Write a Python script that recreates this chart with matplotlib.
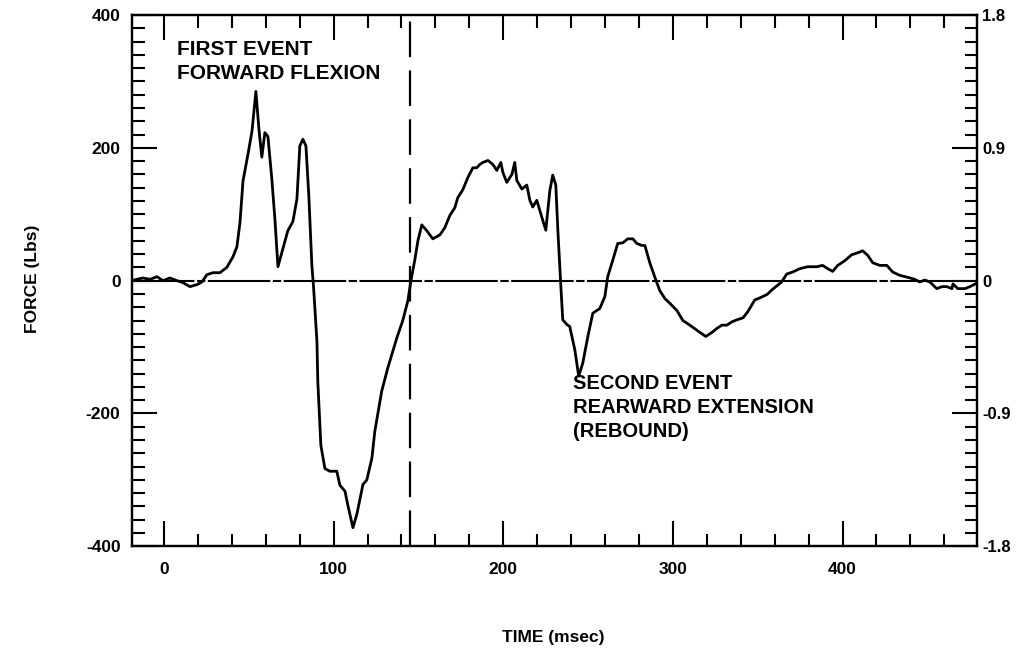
import numpy as np
import matplotlib
matplotlib.use("Agg")
import matplotlib.pyplot as plt
from matplotlib.ticker import MultipleLocator

plt.rcParams['font.family'] = ['Liberation Sans', 'DejaVu Sans']
plt.rcParams['font.weight'] = 'bold'
plt.rcParams['axes.unicode_minus'] = False

# neck force trace, time in msec, force in lbs
time_ms = [-19, -16, -12.4, -8.2, -4.1, -0.6, 3.5, 7.7, 11.2, 15.3, 19.4, 22.4, 25.3,
           28.9, 33, 37.1, 40.7, 43, 44.8, 46.6, 49.5, 51.9, 54.2, 56, 57.7, 59.5,
           61.3, 63.6, 65.4, 67.2, 70.1, 73, 76, 78.4, 80.1, 81.9, 83.7, 85.4, 87.2,
           88.2, 90.2, 90.7, 92.5, 94.9, 97.8, 101.9, 103.7, 106.7, 108.4, 111.4,
           113.7, 117.3, 119.6, 122.6, 124.3, 128.4, 132, 137.3, 140.8, 143.8, 145.6,
           148, 149.7, 152, 155, 158.5, 162.7, 165.6, 168.5, 171.5, 173.2, 176.2,
           179.1, 182.1, 184.4, 186.2, 188, 191, 193.9, 196.2, 198.6, 199.8, 202.1,
           205.1, 206.8, 208, 211, 213.9, 215.7, 217.4, 219.8, 222.7, 225.1, 227.5,
           229.2, 231, 232.2, 233.9, 235.1, 237.5, 239.2, 242.2, 244.5, 246.9, 249.9,
           252.8, 256.9, 259.9, 261.6, 264.6, 267.5, 270.5, 273.4, 276.4, 278.8,
           281.7, 283.5, 286.4, 289.4, 292.3, 295.3, 298.2, 302.4, 305.9, 310, 316,
           319.4, 323, 325.9, 328.9, 331.8, 334.8, 337.7, 341.3, 344.1, 348.3, 351.2,
           355.4, 358.8, 364.1, 367.1, 370.6, 374.8, 379.5, 384.8, 388.3, 391.3,
           394.2, 397.2, 401.3, 405.4, 409, 411.9, 414.9, 417.8, 422, 426.1, 429.6,
           433.8, 438.5, 442.6, 445.6, 448.5, 451.5, 455.6, 458.6, 461.5, 464.5,
           465.1, 468, 472.2, 475.1, 479]
force_lbs = [0, 2, 4, 2, 6, 0, 4, 0, -3, -9, -6, -2, 9,
             12, 12, 20, 36, 51, 87, 150, 190, 225, 285, 228, 186, 223,
             217, 153, 93, 21, 48, 75, 89, 123, 203, 213, 203, 128, 23,
             -10, -92, -152, -248, -283, -287, -287, -308, -317, -338, -372,
             -352, -307, -300, -267, -227, -166, -131, -86, -60, -30, 0,
             33, 60, 84, 75, 63, 69, 80, 98, 110, 125, 137,
             155, 170, 170, 175, 178, 181, 175, 166, 178, 163, 148,
             160, 178, 151, 138, 144, 121, 111, 121, 96, 76, 136,
             159, 144, 76, -5, -59, -66, -69, -104, -144, -124, -84,
             -49, -42, -24, 6, 31, 56, 57, 63, 63, 56,
             53, 53, 27, 5, -15, -27, -34, -45, -60, -67, -78,
             -84, -78, -72, -67, -67, -62, -59, -56, -47, -29, -26,
             -21, -13, -2, 10, 13, 18, 21, 21, 23, 18,
             14, 23, 30, 39, 42, 45, 38, 27, 23, 23, 13,
             8, 5, 2, -2, 1, -2, -12, -9, -9, -12,
             -5, -12, -12, -9, -4]

event_time = 145
left_ticks = [-400, -200, 0, 200, 400]
right_ticks = [-1.8, -0.9, 0, 0.9, 1.8]
right_labels = ['-1.8', '-0.9', '0', '0.9', '1.8']
x_ticks = [0, 100, 200, 300, 400]

fig = plt.figure(figsize=(10.29, 6.55), dpi=100)
ax = fig.add_axes([0.128, 0.166, 0.821, 0.811])

ax.plot(time_ms, force_lbs, color='black', lw=2.0, zorder=3)
ax.axhline(0, color='black', lw=1.5, linestyle=(0, (30, 1.2, 4, 1.2)), zorder=2)
ax.axvline(event_time, color='black', lw=1.6, linestyle=(0, (16, 6)), zorder=2)

ax.set_xlim(-19, 479)
ax.set_ylim(-400, 400)
ax.set_xticks(x_ticks)
ax.set_yticks(left_ticks)
ax.xaxis.set_minor_locator(MultipleLocator(20))
ax.yaxis.set_minor_locator(MultipleLocator(20))
ax.tick_params(which='both', direction='in', width=1.5, top=True,
               labelsize=12.5)
ax.tick_params(which='major', length=18)
ax.tick_params(which='minor', length=9)
ax.tick_params(axis='x', pad=11)
ax.tick_params(axis='y', pad=8)
for s in ax.spines.values():
    s.set_linewidth(1.6)

ax2 = ax.twinx()
ax2.set_ylim(-1.8, 1.8)
ax2.set_yticks(right_ticks)
ax2.set_yticklabels(right_labels)
ax2.yaxis.set_minor_locator(MultipleLocator(0.09))
ax2.tick_params(which='both', direction='in', width=1.5, labelsize=12, pad=4)
ax2.tick_params(which='major', length=18)
ax2.tick_params(which='minor', length=9)
for s in ax2.spines.values():
    s.set_linewidth(1.6)

ax.text(7.7, 362, "FIRST EVENT\nFORWARD FLEXION", fontsize=15, fontweight='bold',
        va='top', ha='left', linespacing=1.3)
ax.text(241, -140, "SECOND EVENT\nREARWARD EXTENSION\n(REBOUND)", fontsize=14.5,
        fontweight='bold', va='top', ha='left', linespacing=1.35)

fig.text(0.032, 0.575, "FORCE (Lbs)", rotation=90, fontsize=12.5, fontweight='bold',
         ha='center', va='center')
fig.text(0.538, 0.027, "TIME (msec)", fontsize=12.5, fontweight='bold',
         ha='center', va='center')

fig.savefig("out.png", dpi=100)
